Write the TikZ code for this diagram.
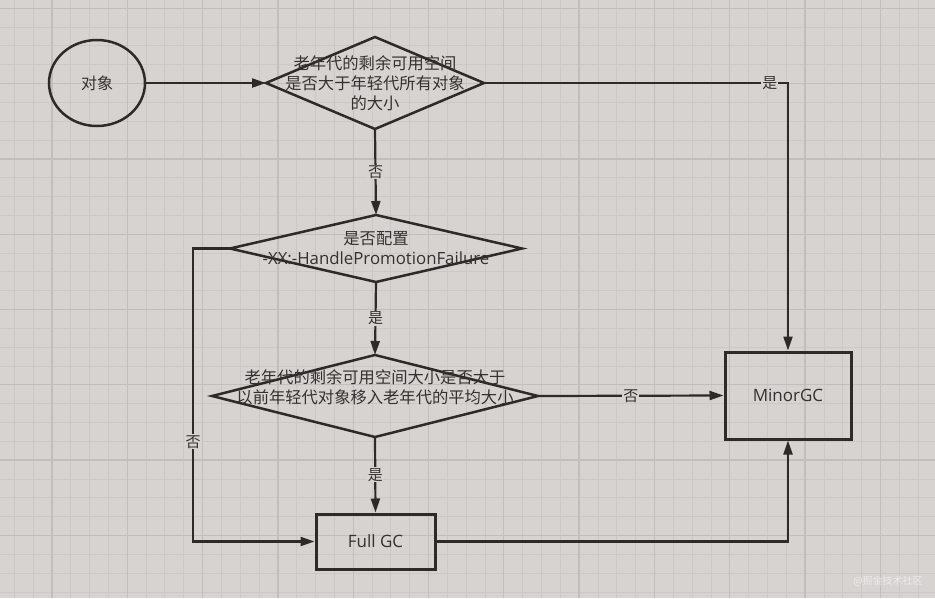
\documentclass[tikz,border=0pt]{standalone}
\usepackage{fontspec}
\setmainfont{Noto Sans CJK SC}
\newfontfamily\latinfont{Open Sans}
\usepackage{xcolor}
\usetikzlibrary{
  arrows.meta,
  positioning,
  shapes.geometric
}
\definecolor{paperbg}{RGB}{215,211,208}
\definecolor{gridminor}{RGB}{204,200,197}
\definecolor{gridmajor}{RGB}{194,190,187}
\definecolor{inkline}{RGB}{46,42,39}
\definecolor{inktext}{RGB}{52,50,48}

\begin{document}
\begin{tikzpicture}[
  x=1pt,y=-1pt,
  start/.style   ={draw=inkline,ellipse,line width=2.5pt,minimum width=96pt,
                   minimum height=86pt,inner sep=0pt,text=inktext,font=\fontsize{16}{19}\selectfont},
  decision/.style={draw=inkline,diamond,line width=2.5pt,inner sep=0pt,outer sep=0pt},
  qtext/.style   ={text=inktext,align=center,inner sep=0pt,font=\fontsize{16.3}{20}\selectfont},
  gcbox/.style   ={draw=inkline,line width=3pt,inner sep=0pt,text=inktext,
                   font=\latinfont\fontsize{17}{20}\selectfont},
  lbl/.style     ={fill=paperbg,text=inktext,inner sep=1pt,font=\fontsize{15}{17}\selectfont},
  arr/.style     ={-{Triangle[length=14pt,width=9pt]},line width=2.2pt,draw=inkline},
]
\useasboundingbox (0,0) rectangle (935,598);
\fill[paperbg] (0,0) rectangle (935,598);
% grid
\foreach \i in {-4,...,48}
  \draw[gridminor,line width=1pt] ({52+18.83*\i},0) -- ({52+18.83*\i},598);
\foreach \i in {-4,...,32}
  \draw[gridminor,line width=1pt] (0,{8.3+18.83*\i}) -- (935,{8.3+18.83*\i});
\foreach \i in {-1,...,12}
  \draw[gridmajor,line width=1.3pt] ({52+75.3*\i},0) -- ({52+75.3*\i},598);
\foreach \i in {0,...,8}
  \draw[gridmajor,line width=1.3pt] (0,{8.3+75.3*\i}) -- (935,{8.3+75.3*\i});

\node[start] (obj) at (97,83) {对象};

\node[decision,minimum width=218pt,minimum height=92pt] (q1) at (375,83) {};
\node[qtext] (q1t) at (q1.center) {老年代的剩余可用空间\\是否大于年轻代所有对象\\的大小};

\node[decision,minimum width=292pt,minimum height=67pt] (q2) at (376,248.5) {};
\node[qtext] (q2t) at (q2.center) {是否配置\\{\latinfont\fontsize{16.8}{20}\selectfont -XX:-HandlePromotionFailure}};

\node[decision,minimum width=326pt,minimum height=82pt] (q3) at (375,396) {};
\node[qtext] (q3t) at (375,387.5) {老年代的剩余可用空间大小是否大于\\以前年轻代对象移入老年代的平均大小};

\node[gcbox,minimum width=119pt,minimum height=55pt] (full)  at (375.5,541.5) {Full GC};
\node[gcbox,minimum width=126pt,minimum height=87pt] (minor) at (788,395.5) {MinorGC};

\draw[arr] (obj) -- (q1);
\draw[arr] (q1.east) -| node[lbl,pos=0.47] {是} (minor.north);
\draw[arr] (q1.south) -- node[lbl] {否} (q2.north);
\draw[arr] (q2.west) -- ([xshift=-37pt]q2.west) |- node[lbl,pos=0.33] {否} (full.west);
\draw[arr] (q2.south) -- node[lbl] {是} (q3.north);
\draw[arr] (q3.east) -- node[lbl] {否} (minor.west);
\draw[arr] (q3.south) -- node[lbl] {是} (full.north);
\draw[arr] (full.east) -| (minor.south);

\node[text=white!85!gray,font=\fontsize{10}{12}\selectfont,inner sep=0pt] (mark) at (888,581) {@掘金技术社区};
\end{tikzpicture}
\end{document}
